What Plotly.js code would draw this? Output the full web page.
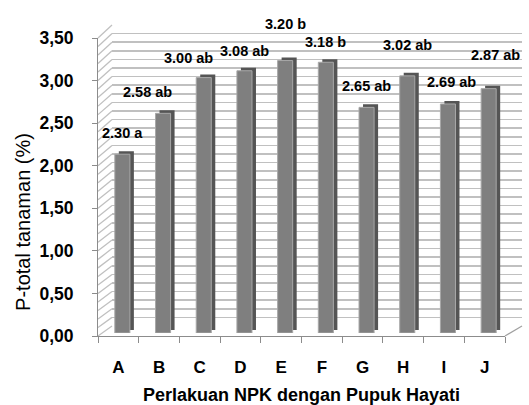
<!DOCTYPE html>
<html>
<head>
<meta charset="utf-8">
<script src="https://cdn.plot.ly/plotly-3.0.1.min.js"></script>
<style>html,body{margin:0;padding:0;background:#fff;}#chart{width:529px;height:405px;}</style>
</head>
<body>
<div id="chart"></div>
<script>
// ---- data ----
const categories = ['A','B','C','D','E','F','G','H','I','J'];
const pTotal = [2.10, 2.58, 3.00, 3.08, 3.20, 3.18, 2.65, 3.02, 2.69, 2.87];
const barLabels = ['2.30 a','2.58 ab','3.00 ab','3.08 ab','3.20 b','3.18 b','2.65 ab','3.02 ab','2.69 ab','2.87 ab'];
const yMax = 3.5;
const gridStep = 0.1;

// ---- layout helpers (pixel -> paper) ----
const W = 529, H = 405;
const dx = (a, b) => [a / W, b / W];
const dy = (bottom, top) => [1 - bottom / H, 1 - top / H];
const FONT = 'Liberation Sans, Arial, sans-serif';

// label offsets (px) relative to each bar top
const labelDX = [0, -16, -15, 0, 0, 0, 0, 0, 4, 7];
const labelDY = [21, 21, 20, 20, 37, 20, 21, 31, 22, 34];

// side wall hatching (decoration)
const shapes = [];
const nGrid = Math.round(yMax / gridStep);
for (let i = 0; i <= nGrid; i++) {
  const v = i * gridStep;
  const yFront = 336 - v * (298 / yMax);
  const yBack = 326 - v * (301 / yMax);
  shapes.push({type:'line', xref:'paper', yref:'paper', layer:'below',
    x0: 98 / W, y0: 1 - yFront / H, x1: 112 / W, y1: 1 - yBack / H,
    line:{color:'#c0c0c0', width:1.3}});
}
// floor right edge
shapes.push({type:'line', xref:'paper', yref:'paper', x0:505/W, y0:1-336/H, x1:522/W, y1:1-326/H,
  line:{color:'#a0a0a0', width:1.2}});

const traces = [
  // front axis holder
  {type:'scatter', x:categories, y:pTotal.map(()=>null), xaxis:'x', yaxis:'y', showlegend:false, hoverinfo:'skip'},
  // back wall grid holder
  {type:'scatter', x:[], y:[], xaxis:'x2', yaxis:'y2', showlegend:false, hoverinfo:'skip'},
  // bar depth (side/top faces)
  {type:'bar', x:categories, y:pTotal, xaxis:'x3', yaxis:'y3', width:0.37,
   marker:{color:'#555555', line:{width:0}}, showlegend:false, hoverinfo:'skip'},
  // bar front faces
  {type:'bar', x:categories, y:pTotal, xaxis:'x4', yaxis:'y4', width:0.37,
   marker:{color:'#7f7f7f', line:{color:'#a8a8a8', width:1}}, showlegend:false},
  // y title holder
  {type:'scatter', x:[], y:[], xaxis:'x4', yaxis:'y5', showlegend:false, hoverinfo:'skip'}
];

const hiddenX = (dom) => ({domain:dom, type:'category', range:[-0.5, 9.5], visible:false, fixedrange:true});
const hiddenY = (dom) => ({domain:dom, range:[0, yMax], visible:false, fixedrange:true});

const layout = {
  width: W, height: H,
  margin:{l:0, r:0, t:0, b:0},
  paper_bgcolor:'#ffffff', plot_bgcolor:'rgba(0,0,0,0)',
  separators:',.',
  showlegend:false,
  font:{family:FONT, color:'#000000'},
  xaxis:{
    domain:dx(98, 505), type:'category', range:[-0.5, 9.5], anchor:'y',
    showline:true, linecolor:'#8c8c8c', linewidth:1,
    ticks:'outside', tickson:'boundaries', ticklen:6, tickcolor:'#8c8c8c',
    showgrid:false, zeroline:false,
    tickfont:{family:FONT, size:17, weight:700, color:'#000'},
    ticklabelstandoff:16,
    title:{text:'Perlakuan NPK dengan Pupuk Hayati', font:{family:FONT, size:18, weight:700, color:'#000'}, standoff:22}
  },
  yaxis:{
    domain:dy(336, 38), range:[0, yMax], anchor:'x',
    showline:true, linecolor:'#8c8c8c', linewidth:1,
    ticks:'outside', ticklen:5, tickcolor:'#8c8c8c',
    dtick:0.5, tickformat:'.2f',
    showgrid:false, zeroline:false,
    tickfont:{family:FONT, size:17.5, weight:700, color:'#000'},
    ticklabelstandoff:15
  },
  xaxis2:{domain:dx(112, 522), range:[0,1], anchor:'y2', showgrid:false, showline:false, zeroline:false, showticklabels:false, ticks:'', fixedrange:true},
  yaxis2:{domain:dy(326, 25), range:[0, yMax], anchor:'x2', dtick:gridStep, showgrid:true, gridcolor:'#c0c0c0', gridwidth:1.5,
          showline:false, zeroline:false, showticklabels:false, ticks:'', fixedrange:true},
  xaxis3:hiddenX(dx(106, 513)),
  yaxis3:hiddenY(dy(330, 32)),
  xaxis4:hiddenX(dx(102, 509)),
  yaxis4:hiddenY(dy(333, 35)),
  yaxis5:{domain:dy(322, 122), range:[0,1], anchor:'free', position:97/W, showgrid:false, showline:false, zeroline:false,
          showticklabels:false, ticks:'', fixedrange:true,
          title:{text:'P-total tanaman (%)', font:{family:FONT, size:20, color:'#000'}, standoff:60}},
  shapes: shapes,
  annotations: categories.map((c, i) => ({
    x:c, y:pTotal[i], xref:'x4', yref:'y4', text:barLabels[i], showarrow:false,
    xanchor:'center', yanchor:'middle', xshift:labelDX[i], yshift:labelDY[i],
    font:{family:FONT, size:14.5, weight:700, color:'#000'}
  }))
};

Plotly.newPlot('chart', traces, layout, {displayModeBar:false, staticPlot:true});
</script>
</body>
</html>
